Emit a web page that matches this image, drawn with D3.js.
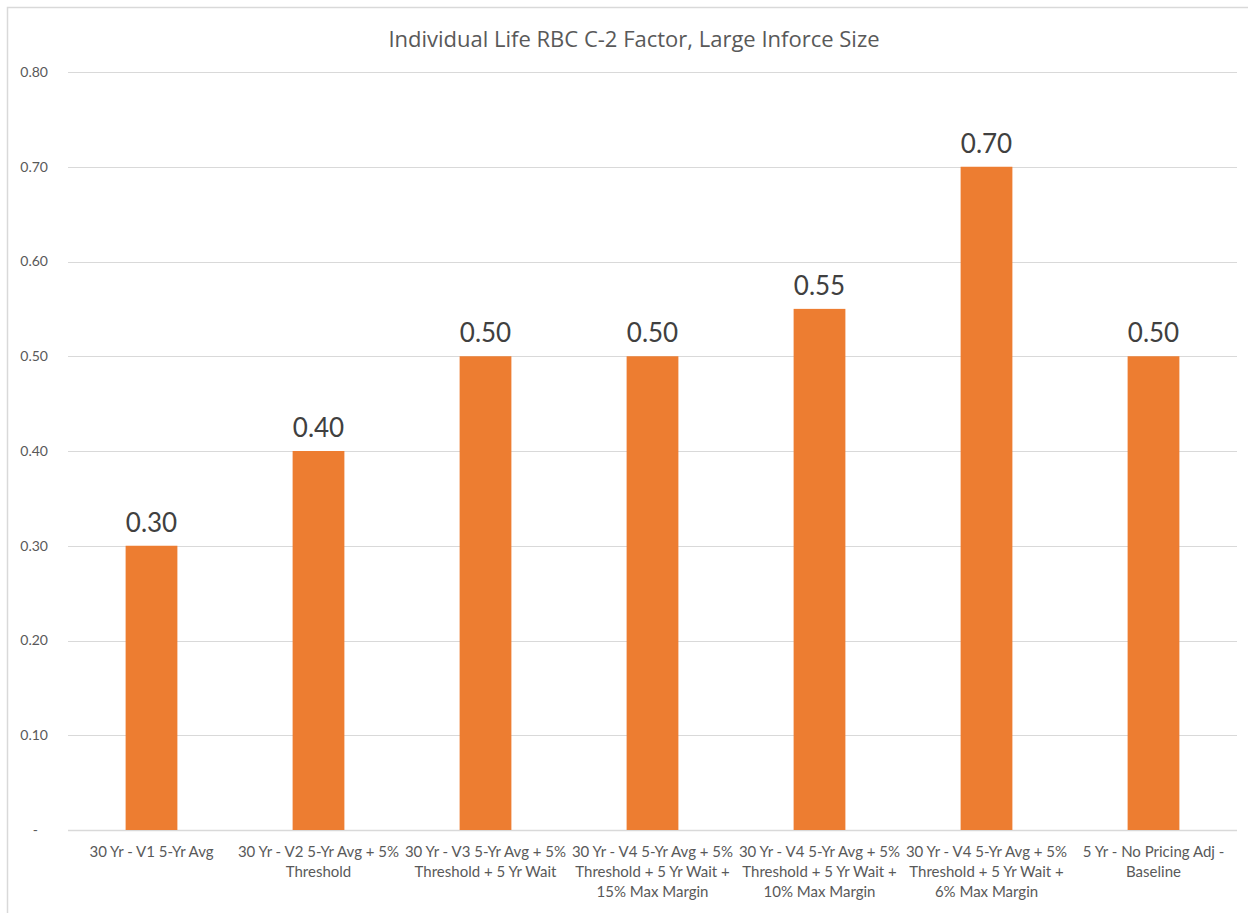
<!DOCTYPE html>
<html>
<head>
<meta charset="utf-8">
<script src="https://cdn.jsdelivr.net/npm/d3@7"></script>
<style>
  body { margin: 0; background: #fff; }
</style>
</head>
<body>
<div id="chart"></div>
<script>
// data
const categories = [
  ["30 Yr - V1 5-Yr Avg"],
  ["30 Yr - V2 5-Yr Avg + 5%", "Threshold"],
  ["30 Yr - V3 5-Yr Avg + 5%", "Threshold + 5 Yr Wait"],
  ["30 Yr - V4 5-Yr Avg + 5%", "Threshold + 5 Yr Wait +", "15% Max Margin"],
  ["30 Yr - V4 5-Yr Avg + 5%", "Threshold + 5 Yr Wait +", "10% Max Margin"],
  ["30 Yr - V4 5-Yr Avg + 5%", "Threshold + 5 Yr Wait +", "6% Max Margin"],
  ["5 Yr - No Pricing Adj -", "Baseline"]
]
const values = [0.30, 0.40, 0.50, 0.50, 0.55, 0.70, 0.50]
const yTicks = [0, 0.1, 0.2, 0.3, 0.4, 0.5, 0.6, 0.7, 0.8]
const title = "Individual Life RBC C-2 Factor, Large Inforce Size"

const W = 1248, H = 913
const margin = {top: 72, right: 11, bottom: 83, left: 68}
const width = W - margin.left - margin.right,
      height = H - margin.top - margin.bottom

const svg = d3.select("#chart").append("svg")
    .attr("width", W)
    .attr("height", H)
    .style("font-family", "Lato, sans-serif")

// chart border (only top/left inside the picture)
svg.append("rect")
    .attr("x", 7.5).attr("y", 7.5)
    .attr("width", W + 20).attr("height", H + 20)
    .attr("fill", "none")
    .attr("stroke", "#d9d9d9")
    .attr("stroke-width", 1.5)

svg.append("text")
    .attr("x", 634)
    .attr("y", 47)
    .attr("text-anchor", "middle")
    .style("font-family", "'Open Sans', sans-serif")
    .style("font-size", "22px")
    .attr("fill", "#595959")
    .text(title)

const g = svg.append("g")
    .attr("transform", "translate(" + margin.left + "," + margin.top + ")")

const x = d3.scaleBand()
    .domain(d3.range(categories.length))
    .range([0, width])
    .paddingInner(0.69)
    .paddingOuter(0.345)

const y = d3.scaleLinear()
    .domain([0, 0.8])
    .range([height, 0])

// gridlines
g.append("g")
    .selectAll("line").data(yTicks)
    .enter().append("line")
    .attr("x1", 0).attr("x2", width)
    .attr("y1", d => Math.round(y(d)) + 0.5)
    .attr("y2", d => Math.round(y(d)) + 0.5)
    .attr("stroke", "#d9d9d9")
    .attr("stroke-width", d => d === 0 ? 1.5 : 1)

// y axis labels
const yAxis = g.append("g")
    .call(d3.axisLeft(y).tickValues(yTicks).tickSize(0).tickPadding(20)
        .tickFormat(d => d === 0 ? "-" : d3.format(".2f")(d)))
yAxis.select(".domain").remove()
yAxis.attr("font-family", null).attr("font-size", null)
yAxis.selectAll("text")
    .style("font-size", "14px")
    .attr("fill", "#595959")
yAxis.selectAll(".tick").filter(d => d === 0).select("text").attr("dx", -10)

// bars
g.selectAll(".bar").data(values)
  .enter().append("rect")
    .attr("class", "bar")
    .attr("x", (d, i) => x(i))
    .attr("width", x.bandwidth())
    .attr("y", d => y(d))
    .attr("height", d => height - y(d))
    .attr("fill", "#ED7D31")

// value labels
g.selectAll(".val").data(values)
  .enter().append("text")
    .attr("class", "val")
    .attr("x", (d, i) => x(i) + x.bandwidth() / 2)
    .attr("y", d => y(d) - 14)
    .attr("text-anchor", "middle")
    .style("font-size", "26px")
    .attr("fill", "#404040")
    .text(d => d3.format(".2f")(d))

// category labels
const cat = g.selectAll(".cat").data(categories)
  .enter().append("text")
    .attr("class", "cat")
    .attr("x", (d, i) => x(i) + x.bandwidth() / 2)
    .attr("y", height + 27)
    .attr("text-anchor", "middle")
    .style("font-size", "15px")
    .attr("fill", "#595959")
cat.selectAll("tspan").data(d => d)
  .enter().append("tspan")
    .attr("x", function() { return d3.select(this.parentNode).attr("x") })
    .attr("dy", (d, i) => i === 0 ? 0 : 20)
    .text(d => d)
</script>
</body>
</html>
